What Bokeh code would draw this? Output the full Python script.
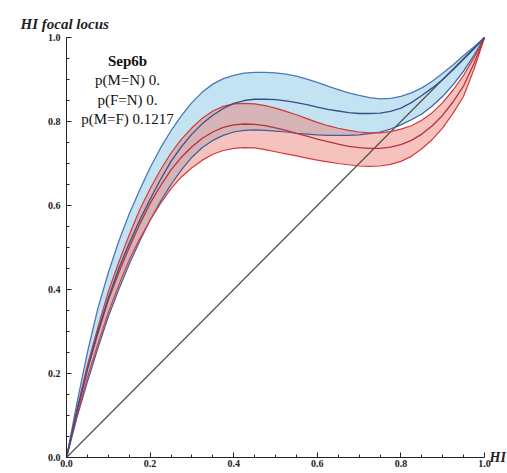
from bokeh.plotting import figure
from bokeh.models import Range1d, Label, FixedTicker, PrintfTickFormatter
from bokeh.embed import file_html
from bokeh.resources import INLINE

# ---- data ----
h = [0, 0.025, 0.05, 0.075, 0.1, 0.125, 0.15, 0.175, 0.2, 0.225, 0.25, 0.275, 0.3, 0.325,
     0.35, 0.375, 0.4, 0.425, 0.45, 0.475, 0.5, 0.525, 0.55, 0.575, 0.6, 0.625, 0.65,
     0.675, 0.7, 0.725, 0.75, 0.775, 0.8, 0.825, 0.85, 0.875, 0.9, 0.925, 0.95, 0.975, 1.0]
blue_upper = [0, 0.13, 0.25, 0.355, 0.44, 0.515, 0.58, 0.637, 0.69, 0.737, 0.778, 0.814, 0.845,
              0.87, 0.889, 0.902, 0.91, 0.915, 0.917, 0.917, 0.916, 0.913, 0.908, 0.901, 0.893,
              0.884, 0.876, 0.868, 0.862, 0.857, 0.854, 0.855, 0.86, 0.868, 0.88, 0.896, 0.915,
              0.935, 0.957, 0.978, 1.0]
blue_mid = [0, 0.11, 0.21, 0.3, 0.38, 0.45, 0.51, 0.565, 0.615, 0.662, 0.705, 0.74, 0.77,
            0.795, 0.815, 0.831, 0.843, 0.85, 0.853, 0.853, 0.852, 0.849, 0.845, 0.84, 0.834,
            0.829, 0.825, 0.821, 0.819, 0.819, 0.82, 0.824, 0.832, 0.845, 0.862, 0.88, 0.9,
            0.923, 0.948, 0.973, 1.0]
blue_lower = [0, 0.095, 0.18, 0.26, 0.335, 0.4, 0.46, 0.515, 0.565, 0.61, 0.65, 0.685, 0.715,
              0.738, 0.755, 0.767, 0.775, 0.779, 0.78, 0.779, 0.777, 0.775, 0.772, 0.77, 0.768,
              0.767, 0.767, 0.767, 0.768, 0.771, 0.775, 0.782, 0.792, 0.804, 0.818, 0.837, 0.86,
              0.888, 0.92, 0.958, 1.0]
red_upper = [0, 0.115, 0.22, 0.31, 0.395, 0.465, 0.53, 0.59, 0.64, 0.685, 0.725, 0.758, 0.785,
             0.808, 0.825, 0.836, 0.842, 0.843, 0.842, 0.838, 0.832, 0.824, 0.816, 0.807, 0.798,
             0.79, 0.784, 0.779, 0.775, 0.773, 0.773, 0.776, 0.782, 0.79, 0.803, 0.821, 0.845,
             0.875, 0.91, 0.952, 1.0]
red_mid = [0, 0.11, 0.21, 0.295, 0.375, 0.44, 0.5, 0.555, 0.605, 0.647, 0.685, 0.715, 0.74,
           0.76, 0.775, 0.786, 0.792, 0.794, 0.793, 0.79, 0.785, 0.779, 0.772, 0.765, 0.758,
           0.752, 0.746, 0.741, 0.738, 0.736, 0.736, 0.739, 0.745, 0.755, 0.77, 0.79, 0.815,
           0.847, 0.885, 0.938, 1.0]
red_lower = [0, 0.1, 0.19, 0.27, 0.345, 0.41, 0.47, 0.52, 0.565, 0.605, 0.64, 0.668, 0.69,
             0.708, 0.722, 0.731, 0.736, 0.738, 0.737, 0.733, 0.728, 0.723, 0.718, 0.713, 0.708,
             0.704, 0.7, 0.697, 0.694, 0.693, 0.694, 0.698, 0.705, 0.717, 0.735, 0.757, 0.785,
             0.82, 0.86, 0.925, 1.0]
diag_x = [0.0, 1.0]
diag_y = [0.0, 1.0]
major_ticks = [0.0, 0.2, 0.4, 0.6, 0.8, 1.0]
minor_ticks = [0.05, 0.1, 0.15, 0.25, 0.3, 0.35, 0.45, 0.5, 0.55, 0.65, 0.7, 0.75, 0.85, 0.9, 0.95]
annot_lines = ["Sep6b", "p(M=N) 0.", "p(F=N) 0.", "p(M=F) 0.1217"]
y_title = "HI focal locus"
x_title = "HI"

p = figure(width=507, height=473, output_backend="svg", toolbar_location=None,
           x_range=Range1d(-0.1579, 1.0550), y_range=Range1d(-0.0381, 1.0881),
           min_border_left=0, min_border_right=0, min_border_top=0, min_border_bottom=0)
p.outline_line_color = None
p.xgrid.visible = False
p.ygrid.visible = False
p.background_fill_color = "white"

# bands
p.varea(x=h, y1=blue_lower, y2=blue_upper, fill_color="#87c8e6", fill_alpha=0.5)
p.varea(x=h, y1=red_lower, y2=red_upper, fill_color="#eb786e", fill_alpha=0.45)

# diagonal
p.line(diag_x, diag_y, line_color="#505050", line_width=1.2)

# curves
p.line(h, blue_upper, line_color="#4a78b8", line_width=1.3)
p.line(h, blue_lower, line_color="#3d5f9a", line_width=1.2)
p.line(h, red_upper, line_color="#cc3b3b", line_width=1.2)
p.line(h, red_lower, line_color="#d83a3a", line_width=1.2)
p.line(h, red_mid, line_color="#b8323c", line_width=1.3)
p.line(h, blue_mid, line_color="#34508a", line_width=1.3)

# axes styling (Mathematica-like, axes crossing at the origin)
for ax in (p.xaxis[0], p.yaxis[0]):
    ax.fixed_location = 0
    ax.bounds = (0, 1)
    ax.ticker = FixedTicker(ticks=major_ticks, minor_ticks=minor_ticks)
    ax.formatter = PrintfTickFormatter(format="%.1f")
    ax.major_tick_in = 5
    ax.major_tick_out = 0
    ax.minor_tick_in = 3
    ax.minor_tick_out = 0
    ax.axis_line_color = "#222222"
    ax.major_tick_line_color = "#222222"
    ax.minor_tick_line_color = "#222222"
    ax.major_label_text_font = "Liberation Serif"
    ax.major_label_text_font_style = "bold"
    ax.major_label_text_font_size = "10px"
    ax.major_label_text_color = "#222222"
p.xaxis.major_label_standoff = 3
p.yaxis.major_label_standoff = 6

# axis titles
p.add_layout(Label(x=-0.110, y=1.033, text=y_title, text_font="Liberation Serif",
                   text_font_style="bold italic", text_font_size="15px", text_color="#222222",
                   text_baseline="alphabetic", text_align="left"))
p.add_layout(Label(x=1.012, y=0.0, text=x_title, text_font="Liberation Serif",
                   text_font_style="bold italic", text_font_size="14px", text_color="#222222",
                   text_baseline="middle", text_align="left"))

# annotation block
ys = [0.945, 0.898, 0.851, 0.807]
for i, (t, yy) in enumerate(zip(annot_lines, ys)):
    p.add_layout(Label(x=0.146, y=yy, text=t, text_font="Liberation Serif",
                       text_font_style="bold" if i == 0 else "normal",
                       text_font_size="15px", text_color="#111111",
                       text_baseline="middle", text_align="center"))

open("out.html", "w").write(file_html(p, INLINE))
